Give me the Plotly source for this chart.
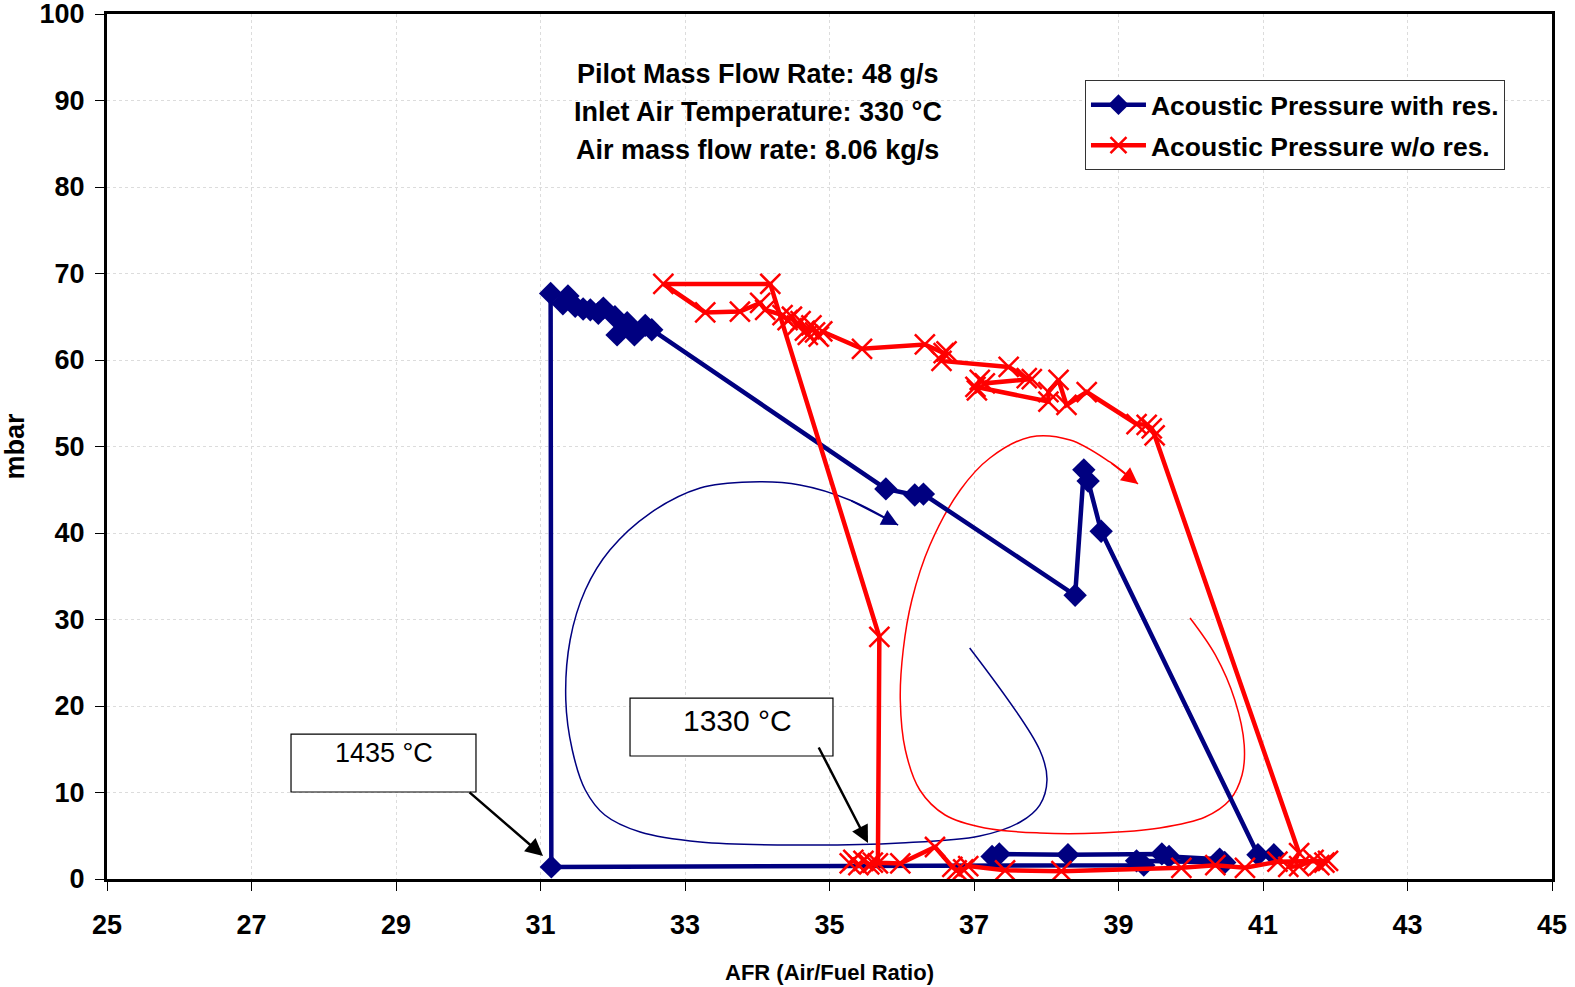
import plotly.graph_objects as go

# ---- data: Acoustic Pressure with resonator (mbar) vs AFR
afr_with_res = [37.25, 37.35, 38.30, 39.60, 39.70, 40.40, 40.47, 39.25, 39.35, 31.15,
                31.14, 31.38, 31.31, 31.48, 31.59, 31.69, 31.80, 31.87, 32.03, 32.06,
                32.20, 32.30, 32.45, 32.54, 35.78, 36.18, 36.30, 38.40, 38.52, 38.58,
                38.76, 40.93, 41.15]
p_with_res = [2.6, 2.9, 2.8, 2.9, 2.6, 2.3, 1.9, 2.1, 1.6, 1.4,
              67.7, 67.4, 66.5, 66.2, 65.9, 65.8, 65.4, 66.0, 65.0, 62.9,
              64.3, 62.9, 64.0, 63.5, 45.1, 44.4, 44.5, 32.8, 47.3, 46.0,
              40.2, 2.8, 2.8]

# ---- data: Acoustic Pressure without resonator
afr_wo_res = [35.28, 35.33, 35.40, 35.47, 35.55, 35.67, 35.69, 34.18, 32.70, 33.28,
              33.76, 34.04, 34.11, 34.35, 34.42, 34.48, 34.55, 34.60, 34.66, 34.70,
              34.75, 34.80, 34.85, 34.90, 35.45, 36.32, 36.58, 36.62, 36.55, 37.48,
              37.73, 37.80, 37.15, 37.08, 37.04, 37.02, 38.03, 38.03, 38.17, 38.28,
              38.56, 39.25, 39.39, 39.46, 39.50, 41.50, 41.35, 41.50, 41.70, 41.78,
              41.85, 41.90, 41.20, 40.75, 40.34, 39.87, 38.21, 37.43, 36.92, 36.85,
              36.76, 36.70, 36.46, 35.98, 35.60]
p_wo_res = [1.8, 2.2, 1.6, 2.1, 1.7, 1.8, 28.0, 68.8, 68.8, 65.5,
            65.6, 66.6, 65.8, 65.2, 64.6, 65.0, 64.0, 64.5, 63.4, 62.9,
            64.0, 63.2, 62.7, 63.3, 61.3, 61.8, 60.8, 61.0, 59.9, 59.2,
            57.9, 57.8, 57.3, 57.7, 56.5, 56.9, 55.2, 56.3, 57.7, 54.8,
            56.3, 52.6, 52.5, 52.1, 51.3, 3.0, 1.4, 1.5, 2.2, 1.6,
            1.9, 2.1, 2.0, 1.3, 1.6, 1.3, 0.9, 1.0, 1.5, 1.1,
            1.0, 1.4, 3.7, 1.8, 1.9]

# ---- hand-drawn hysteresis arrows (decoration), in data units
loop_blue_x = [36.94, 37.91, 38.01, 37.91, 37.64, 37.08, 35.98, 34.59, 33.21, 32.38,
               31.89, 31.62, 31.44, 31.35, 31.41, 31.62, 31.96, 32.52, 33.21, 33.90,
               34.59, 35.28, 35.95]
loop_blue_y = [26.71, 14.91, 11.45, 8.55, 6.59, 4.97, 4.16, 3.93, 4.28, 5.43,
               7.40, 10.29, 14.91, 20.69, 27.63, 33.41, 38.03, 42.31, 45.20, 45.90,
               45.55, 43.82, 40.92]
loop_red_x = [39.99, 40.34, 40.61, 40.74, 40.71, 40.54, 40.20, 39.57, 38.74, 37.91,
              37.15, 36.60, 36.25, 36.05, 35.98, 36.02, 36.14, 36.39, 36.81, 37.22,
              37.78, 38.33, 38.88, 39.27]
loop_red_y = [30.17, 25.90, 20.69, 15.49, 12.02, 9.13, 7.17, 5.90, 5.32, 5.32,
              5.90, 7.40, 10.29, 14.91, 20.69, 26.47, 32.25, 38.61, 44.97, 48.67,
              51.10, 50.75, 48.21, 45.66]

info_lines = ["Pilot Mass Flow Rate: 48 g/s",
              "Inlet Air Temperature: 330 °C",
              "Air mass flow rate: 8.06 kg/s"]

NAVY = "#000080"
RED = "#FF0000"
FONT = "Liberation Sans, Arial, sans-serif"

fig = go.Figure()

fig.add_trace(go.Scatter(x=loop_blue_x, y=loop_blue_y, mode="lines",
                         line=dict(color=NAVY, width=1.5, shape="spline"),
                         showlegend=False, hoverinfo="skip"))
fig.add_trace(go.Scatter(x=loop_red_x, y=loop_red_y, mode="lines",
                         line=dict(color=RED, width=1.5, shape="spline"),
                         showlegend=False, hoverinfo="skip"))

fig.add_trace(go.Scatter(x=afr_with_res, y=p_with_res, mode="lines+markers",
                         name="Acoustic Pressure with res.", legendgroup="a",
                         line=dict(color=NAVY, width=4.5),
                         marker=dict(symbol="diamond", size=18, color=NAVY)))
fig.add_trace(go.Scatter(x=afr_wo_res, y=p_wo_res, mode="lines+markers",
                         name="Acoustic Pressure w/o res.", legendgroup="b",
                         line=dict(color=RED, width=4.5),
                         marker=dict(symbol="x-thin", size=20, color=RED,
                                     line=dict(color=RED, width=2.5))))

# arrowheads on the hand-drawn loops
fig.add_annotation(x=loop_blue_x[-1], y=loop_blue_y[-1], ax=loop_blue_x[-2], ay=loop_blue_y[-2],
                   xref="x", yref="y", axref="x", ayref="y", text="", showarrow=True,
                   arrowhead=2, arrowsize=2.2, arrowwidth=1.5, arrowcolor=NAVY)
fig.add_annotation(x=loop_red_x[-1], y=loop_red_y[-1], ax=loop_red_x[-2], ay=loop_red_y[-2],
                   xref="x", yref="y", axref="x", ayref="y", text="", showarrow=True,
                   arrowhead=2, arrowsize=2.2, arrowwidth=1.5, arrowcolor=RED)

# temperature call-out boxes
fig.add_shape(type="rect", x0=27.547, x1=30.107, y0=10.06, y1=16.76,
              xref="x", yref="y", line=dict(color="black", width=1.2), fillcolor="white")
fig.add_shape(type="rect", x0=32.239, x1=35.048, y0=14.22, y1=20.92,
              xref="x", yref="y", line=dict(color="black", width=1.2), fillcolor="white")
fig.add_annotation(x=28.83, y=14.57, xref="x", yref="y", text="1435 °C", showarrow=False,
                   font=dict(family=FONT, size=27, color="black"))
fig.add_annotation(x=33.72, y=18.38, xref="x", yref="y", text="1330 °C", showarrow=False,
                   font=dict(family=FONT, size=30, color="black"))
fig.add_annotation(x=31.035, y=2.66, ax=29.997, ay=10.17, xref="x", yref="y",
                   axref="x", ayref="y", text="", showarrow=True,
                   arrowhead=2, arrowsize=1.4, arrowwidth=2.5, arrowcolor="black")
fig.add_annotation(x=35.533, y=4.16, ax=34.84, ay=15.38, xref="x", yref="y",
                   axref="x", ayref="y", text="", showarrow=True,
                   arrowhead=2, arrowsize=1.4, arrowwidth=2.5, arrowcolor="black")

# info text
for txt, yp in zip(info_lines, [0.9306, 0.8867, 0.8428]):
    fig.add_annotation(x=0.4505, y=yp, xref="paper", yref="paper", text=txt,
                       showarrow=False, xanchor="center", yanchor="middle",
                       font=dict(family=FONT, size=27, color="black", weight="bold"))

axis_common = dict(showline=True, linewidth=3, linecolor="black", mirror=True,
                   ticks="outside", ticklen=9, tickwidth=1.2, tickcolor="black",
                   showgrid=True, gridcolor="#dcdcdc", griddash="dot", gridwidth=1,
                   zeroline=False, automargin=False, ticklabeloverflow="allow",
                   tickfont=dict(family=FONT, size=27, color="black", weight="bold"))

fig.update_xaxes(range=[25, 45], tick0=25, dtick=2, ticklabelstandoff=11,
                 title=dict(text="AFR (Air/Fuel Ratio)", standoff=26,
                            font=dict(family=FONT, size=22, color="black", weight="bold")),
                 **axis_common)
fig.update_yaxes(range=[0, 100], tick0=0, dtick=10, ticklabelstandoff=5,
                 title=dict(text="mbar", standoff=22,
                            font=dict(family=FONT, size=27, color="black", weight="bold")),
                 **axis_common)

fig.update_layout(width=1575, height=987,
                  margin=dict(l=107, r=23, t=14, b=108),
                  plot_bgcolor="white", paper_bgcolor="white",
                  font=dict(family=FONT, color="black"),
                  legend=dict(x=0.6768, y=0.9237, xanchor="left", yanchor="top",
                              bgcolor="white", bordercolor="#333333", borderwidth=1,
                              font=dict(family=FONT, size=26.5, color="black", weight="bold"),
                              tracegroupgap=3, itemwidth=55))

fig.write_html("out.html")
